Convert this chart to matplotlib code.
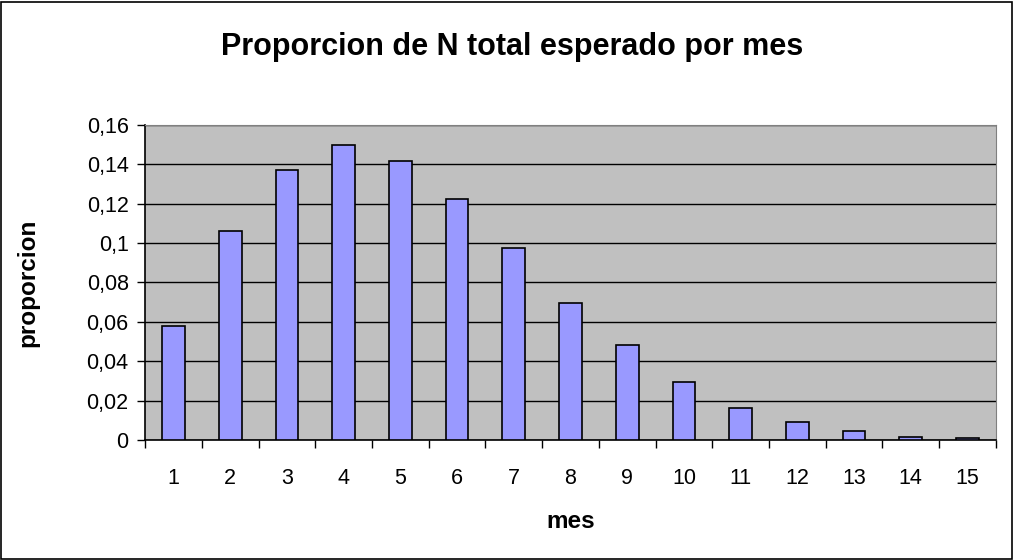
import numpy as np
import matplotlib
matplotlib.use('Agg')
import matplotlib.pyplot as plt
from matplotlib.ticker import FuncFormatter, FixedLocator

plt.rcParams['font.family'] = ['Liberation Sans', 'DejaVu Sans']

meses = list(range(1, 16))
proporcion = [0.0577, 0.106, 0.137, 0.1496, 0.1416, 0.1225, 0.0974, 0.0694,
              0.048, 0.0297, 0.0163, 0.0093, 0.0046, 0.0017, 0.0009]
y_ticks = [0, 0.02, 0.04, 0.06, 0.08, 0.1, 0.12, 0.14, 0.16]

fig = plt.figure(figsize=(10.14, 5.6), dpi=100)
ax = fig.add_axes([0.1433, 0.2143, 0.8387, 0.5625])

x = np.arange(len(meses))
ax.bar(x, proporcion, width=0.4, color='#9999ff', edgecolor='black',
       linewidth=1.2, zorder=3)

ax.set_facecolor('#c0c0c0')
ax.set_xlim(-0.5, len(meses) - 0.5)
ax.set_ylim(0, 0.16)
ax.set_yticks(y_ticks)
ax.yaxis.set_major_formatter(FuncFormatter(lambda v, p: ('%g' % round(v, 2)).replace('.', ',')))
ax.grid(axis='y', color='black', linewidth=1, zorder=1)

# ticks between categories, labels centred
ax.xaxis.set_major_locator(FixedLocator(np.arange(-0.5, len(meses), 1.0)))
ax.xaxis.set_minor_locator(FixedLocator(x))
ax.set_xticklabels([])
ax.set_xticklabels([str(m) for m in meses], minor=True)
ax.tick_params(axis='x', which='major', length=6, width=1, direction='out')
ax.tick_params(axis='x', which='minor', length=0, pad=20, labelsize=15.5)
ax.tick_params(axis='y', length=6, width=1, direction='out', labelsize=15.5, pad=6)

for side in ['top', 'right']:
    ax.spines[side].set_color('#808080')
for side in ['left', 'bottom']:
    ax.spines[side].set_color('black')
    ax.spines[side].set_linewidth(1.2)

fig.text(0.505, 0.916, 'Proporcion de N total esperado por mes', ha='center',
         va='center', fontsize=22, fontweight='bold')
ax.set_xlabel('mes', fontsize=17.5, fontweight='bold', va='center')
ax.xaxis.set_label_coords(0.5, -0.26)
ax.set_ylabel('proporcion', fontsize=17.5, fontweight='bold', va='center')
ax.yaxis.set_label_coords(-0.138, 0.5)

# outer frame
fig.patches.append(plt.Rectangle((0.001, 0.002), 0.997, 0.995, transform=fig.transFigure,
                                 fill=False, edgecolor='black', linewidth=1.2))

fig.savefig('out.png', dpi=100)
